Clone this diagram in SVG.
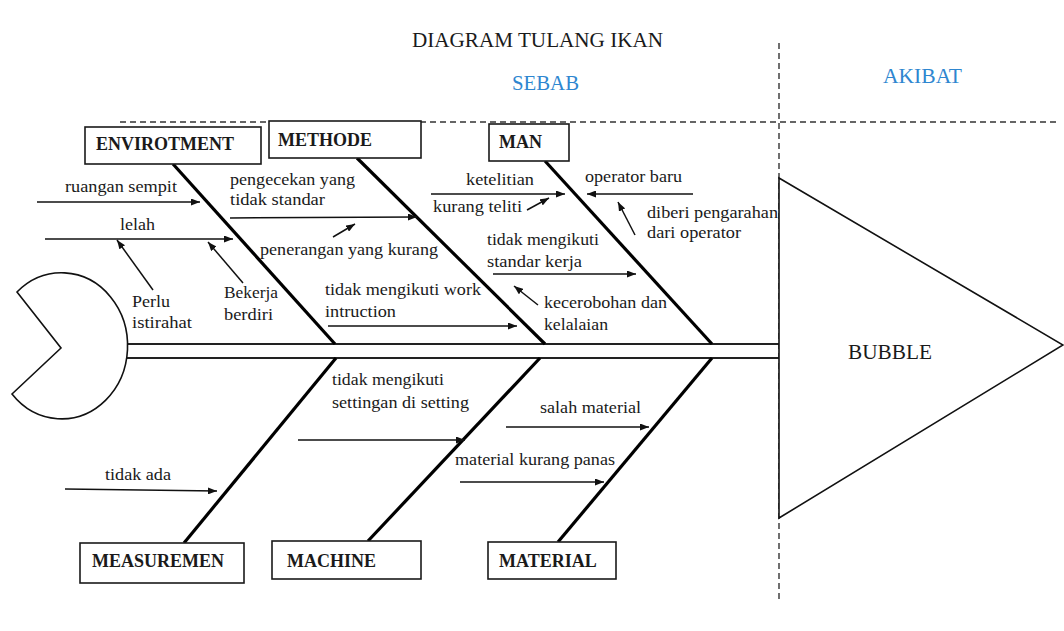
<svg xmlns="http://www.w3.org/2000/svg" width="1064" height="631" viewBox="0 0 1064 631">
<defs>
<marker id="ah" markerWidth="9" markerHeight="7" refX="9" refY="3.5" orient="auto" markerUnits="userSpaceOnUse"><path d="M0,0 L9,3.5 L0,7 Z" fill="#111"/></marker>
<style>
.box{fill:#fff;stroke:#1a1a1a;stroke-width:1.6}
.bt{font-family:"Liberation Serif",serif;font-weight:bold;font-size:18px;fill:#1a1a1a}
.lb{font-family:"Liberation Serif",serif;font-size:17px;fill:#1a1a1a}
.hd{font-family:"Liberation Serif",serif;font-size:21px;fill:#1a1a1a}
.blue{fill:#2E86D0}
.bone{stroke:#000;stroke-width:3.2;fill:none}
.spine{stroke:#222;stroke-width:1.8;fill:none}
.ar{stroke:#111;stroke-width:1.5;fill:none;marker-end:url(#ah)}
.dash{stroke:#333;stroke-width:1.4;stroke-dasharray:6 4;fill:none}
.shape{fill:#fff;stroke:#111;stroke-width:1.6}
</style>
</defs>
<rect width="1064" height="631" fill="#fff"/>

<g id="frame">
<line class="dash" x1="120" y1="122" x2="1057" y2="122"/>
<line class="dash" x1="779" y1="43" x2="779" y2="602"/>
</g>

<g id="titles">
<text class="hd" x="412" y="47" textLength="251" lengthAdjust="spacingAndGlyphs">DIAGRAM TULANG IKAN</text>
<text class="hd blue" x="512" y="90" textLength="67" lengthAdjust="spacingAndGlyphs">SEBAB</text>
<text class="hd blue" x="883" y="83" textLength="79" lengthAdjust="spacingAndGlyphs">AKIBAT</text>
</g>

<g id="connectors">
<line class="spine" x1="127" y1="344" x2="779" y2="344"/>
<line class="spine" x1="127" y1="358" x2="779" y2="358"/>
<line class="bone" x1="173" y1="164" x2="335" y2="344"/>
<line class="bone" x1="357" y1="158" x2="545" y2="344"/>
<line class="bone" x1="545" y1="161" x2="712" y2="344"/>
<line class="bone" x1="336" y1="358" x2="184" y2="543"/>
<line class="bone" x1="540" y1="358" x2="368" y2="541"/>
<line class="bone" x1="712" y1="358" x2="558" y2="542"/>
<line class="ar" x1="37" y1="202" x2="200" y2="202"/>
<line class="ar" x1="45" y1="239" x2="233" y2="239"/>
<line class="ar" x1="153" y1="290" x2="117" y2="240"/>
<line class="ar" x1="243" y1="283" x2="208" y2="242"/>
<line class="ar" x1="230" y1="218" x2="417" y2="217"/>
<line class="ar" x1="333" y1="237" x2="355" y2="224"/>
<line class="ar" x1="328" y1="326" x2="517" y2="326"/>
<line class="ar" x1="431" y1="194" x2="565" y2="194"/>
<line class="ar" x1="527" y1="210" x2="549" y2="198"/>
<line class="ar" x1="693" y1="194" x2="587" y2="194"/>
<line class="ar" x1="635" y1="235" x2="618" y2="202"/>
<line class="ar" x1="493" y1="274" x2="636" y2="274"/>
<line class="ar" x1="538" y1="305" x2="514" y2="286"/>
<line class="ar" x1="298" y1="440" x2="465" y2="440"/>
<line class="ar" x1="506" y1="427" x2="649" y2="427"/>
<line class="ar" x1="460" y1="482" x2="604" y2="482"/>
<line class="ar" x1="65" y1="489" x2="217" y2="491"/>
</g>

<g id="head">
<path class="shape" d="M17,292 L61,348 L12,394 A66 73 0 1 0 17,292 Z"/>
</g>

<g id="effect">
<path class="shape" d="M779,178 L1063,345 L779,518 Z"/>
<text class="hd" x="848" y="359" textLength="84" lengthAdjust="spacingAndGlyphs">BUBBLE</text>
</g>

<g id="envirotment">
<rect class="box" x="85" y="127" width="176" height="37"/>
<text class="bt" x="96" y="150">ENVIROTMENT</text>
</g>
<g id="methode">
<rect class="box" x="269" y="121" width="152" height="37"/>
<text class="bt" x="278" y="146">METHODE</text>
</g>
<g id="man">
<rect class="box" x="489" y="124" width="80" height="37"/>
<text class="bt" x="499" y="148">MAN</text>
</g>
<g id="measuremen">
<rect class="box" x="80" y="543" width="164" height="40"/>
<text class="bt" x="92" y="567">MEASUREMEN</text>
</g>
<g id="machine">
<rect class="box" x="272" y="541" width="149" height="38"/>
<text class="bt" x="287" y="567">MACHINE</text>
</g>
<g id="material">
<rect class="box" x="488" y="542" width="128" height="37"/>
<text class="bt" x="499" y="567">MATERIAL</text>
</g>

<g id="labels">
<text class="lb" x="65" y="192" textLength="112" lengthAdjust="spacingAndGlyphs">ruangan sempit</text>
<text class="lb" x="120" y="230" textLength="35" lengthAdjust="spacingAndGlyphs">lelah</text>
<text class="lb" x="132" y="307" textLength="38" lengthAdjust="spacingAndGlyphs">Perlu</text>
<text class="lb" x="132" y="328" textLength="60" lengthAdjust="spacingAndGlyphs">istirahat</text>
<text class="lb" x="224" y="298" textLength="54" lengthAdjust="spacingAndGlyphs">Bekerja</text>
<text class="lb" x="224" y="320" textLength="49" lengthAdjust="spacingAndGlyphs">berdiri</text>
<text class="lb" x="230" y="185" textLength="125" lengthAdjust="spacingAndGlyphs">pengecekan yang</text>
<text class="lb" x="230" y="205" textLength="95" lengthAdjust="spacingAndGlyphs">tidak standar</text>
<text class="lb" x="260" y="255" textLength="178" lengthAdjust="spacingAndGlyphs">penerangan yang kurang</text>
<text class="lb" x="325" y="295" textLength="156" lengthAdjust="spacingAndGlyphs">tidak mengikuti work</text>
<text class="lb" x="325" y="317" textLength="71" lengthAdjust="spacingAndGlyphs">intruction</text>
<text class="lb" x="466" y="185" textLength="68" lengthAdjust="spacingAndGlyphs">ketelitian</text>
<text class="lb" x="433" y="212" textLength="89" lengthAdjust="spacingAndGlyphs">kurang teliti</text>
<text class="lb" x="585" y="182" textLength="97" lengthAdjust="spacingAndGlyphs">operator baru</text>
<text class="lb" x="647" y="218" textLength="131" lengthAdjust="spacingAndGlyphs">diberi pengarahan</text>
<text class="lb" x="647" y="238" textLength="94" lengthAdjust="spacingAndGlyphs">dari operator</text>
<text class="lb" x="487" y="245" textLength="112" lengthAdjust="spacingAndGlyphs">tidak mengikuti</text>
<text class="lb" x="487" y="267" textLength="95" lengthAdjust="spacingAndGlyphs">standar kerja</text>
<text class="lb" x="544" y="308" textLength="123" lengthAdjust="spacingAndGlyphs">kecerobohan dan</text>
<text class="lb" x="544" y="330" textLength="64" lengthAdjust="spacingAndGlyphs">kelalaian</text>
<text class="lb" x="332" y="385" textLength="112" lengthAdjust="spacingAndGlyphs">tidak mengikuti</text>
<text class="lb" x="332" y="408" textLength="137" lengthAdjust="spacingAndGlyphs">settingan di setting</text>
<text class="lb" x="540" y="413" textLength="101" lengthAdjust="spacingAndGlyphs">salah material</text>
<text class="lb" x="455" y="465" textLength="160" lengthAdjust="spacingAndGlyphs">material kurang panas</text>
<text class="lb" x="105" y="480" textLength="66" lengthAdjust="spacingAndGlyphs">tidak ada</text>
</g>
</svg>
